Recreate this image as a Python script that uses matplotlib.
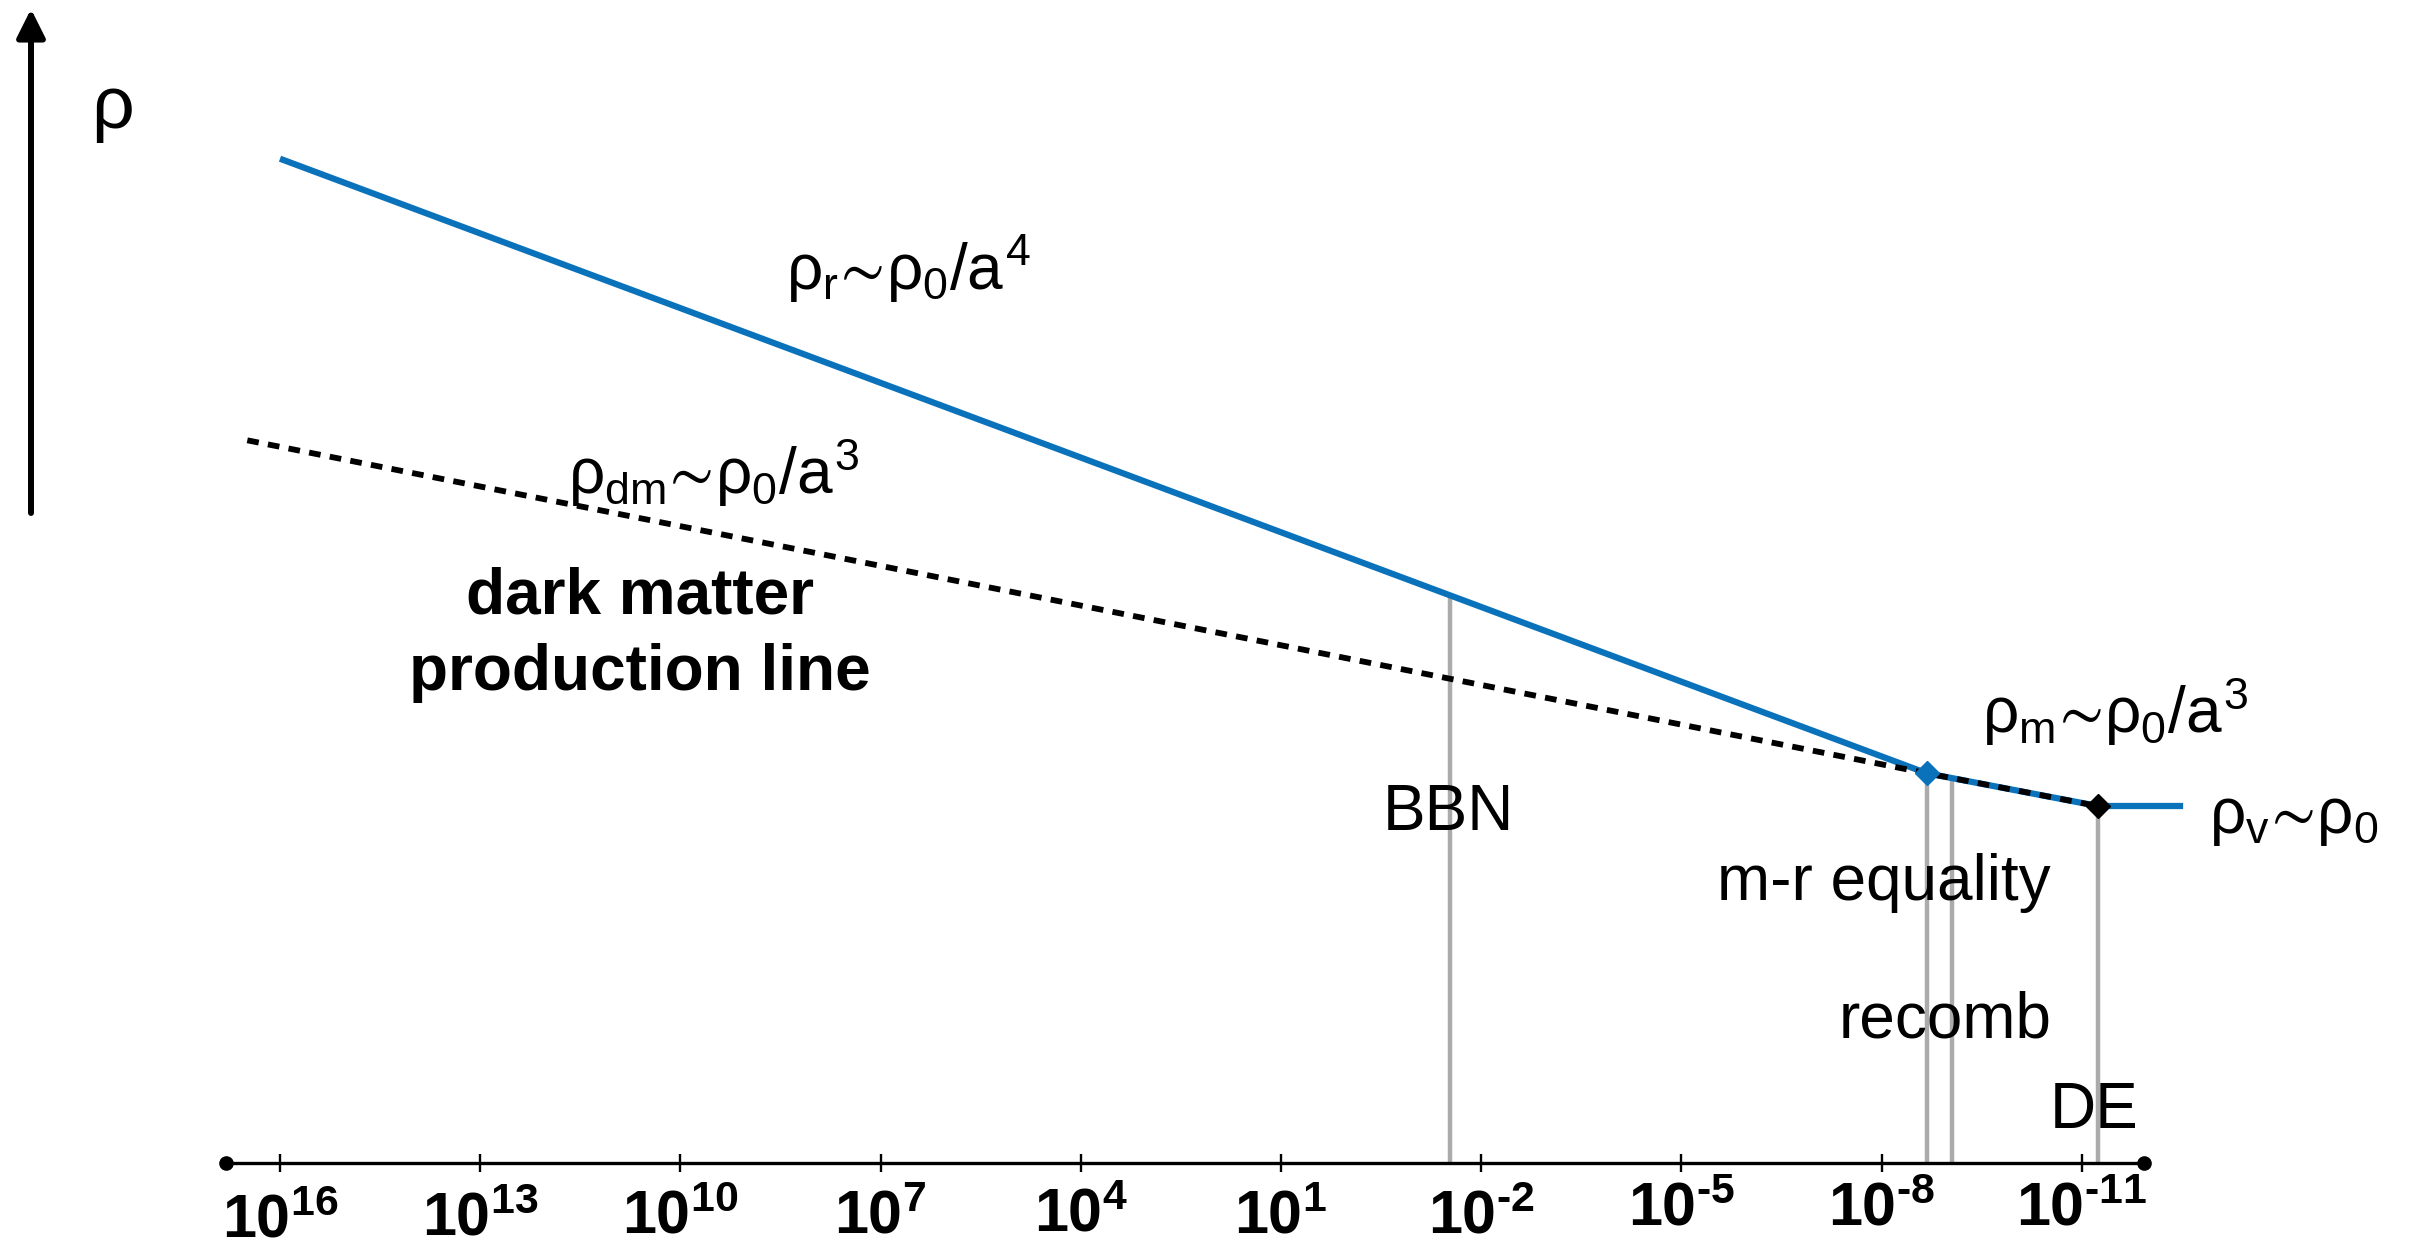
import matplotlib
matplotlib.use("Agg")
import matplotlib.pyplot as plt
from matplotlib import font_manager
import numpy as np

# ---------------------------------------------------------------------------
# Data (horizontal axis: decade exponent, decreasing to the right;
#       vertical axis: log of energy density, arbitrary units)
# ---------------------------------------------------------------------------
tick_exponents = [16, 13, 10, 7, 4, 1, -2, -5, -8, -11]
tick_labels = ["16", "13", "10", "7", "4", "1", "-2", "-5", "-8", "-11"]

# radiation era, rho_r ~ rho_0 / a^4
rad_x = [16.0, -8.68]
rad_y = [15.05, 5.84]

# matter: dark matter production line continuing into the matter era
mat_x = [16.49, -8.68, -11.24]
mat_y = [10.83, 5.84, 5.35]

# vacuum energy, rho_v ~ rho_0
vac_x = [-11.24, -12.52]
vac_y = [5.35, 5.35]

# epochs marked with vertical lines
event_names = ["BBN", "m-r equality", "recomb", "DE"]
event_x = [-1.53, -8.68, -9.06, -11.24]

# horizontal extent of the axis line
axis_span = [16.81, -11.93]

# ---------------------------------------------------------------------------
# Fonts
# ---------------------------------------------------------------------------
def have_font(name):
    try:
        font_manager.findfont(font_manager.FontProperties(family=name),
                              fallback_to_default=False)
        return True
    except Exception:
        return False

narrow = "Liberation Sans Narrow" if have_font("Liberation Sans Narrow") else "Liberation Sans"

plt.rcParams["font.family"] = ["Liberation Sans", "DejaVu Sans"]
plt.rcParams["mathtext.fontset"] = "custom"
plt.rcParams["mathtext.rm"] = "Liberation Sans"
plt.rcParams["mathtext.it"] = "Liberation Sans"
plt.rcParams["mathtext.bf"] = narrow + ":bold"
plt.rcParams["mathtext.fallback"] = "stixsans"

BLUE = "#0a72ba"
GREY = "#ababab"
FS = 46

# ---------------------------------------------------------------------------
# Figure: one axes over the whole canvas, one decade = 66.73 px on both axes
# ---------------------------------------------------------------------------
W, H = 2422, 1247
fig = plt.figure(figsize=(W / 100, H / 100), dpi=100)
ax = fig.add_axes([0, 0, 1, 1])
px = 66.73
ax.set_xlim(16 + 280 / px, 16 - (W - 280) / px)
ax.set_ylim(-(H - 1163) / px, 1163 / px)
for s in ("top", "right", "left"):
    ax.spines[s].set_visible(False)
ax.patch.set_visible(False)

# x axis: spine at y = 0 with end dots
sp = ax.spines["bottom"]
sp.set_position(("data", 0))
sp.set_bounds(min(axis_span), max(axis_span))
sp.set_linewidth(2.4)
ax.set_xticks(tick_exponents)
ax.set_xticklabels([])
ax.tick_params(axis="x", direction="inout", length=12.5, width=1.7, color="black")
ax.set_yticks([])
ax.plot(axis_span, [0, 0], "o", color="black", ms=9.5, clip_on=False, zorder=5)

# tick labels, hand-set baselines (px from top of canvas)
label_baseline_px = [1238, 1236, 1233, 1233, 1232, 1233, 1233, 1225, 1225, 1226]
for e, lab, b in zip(tick_exponents, tick_labels, label_baseline_px):
    ax.text(e, (1163 - b) / px, r"$\mathbf{10^{%s}}$" % lab.replace("-", "\u2010"),
            ha="center", va="baseline", fontsize=44, color="black")

# vertical rho arrow
ax.annotate("", xy=(16 + (280 - 31) / px, (1163 - 9) / px),
            xytext=(16 + (280 - 31) / px, (1163 - 513) / px),
            arrowprops=dict(arrowstyle="-|>", lw=4.3, color="black",
                            mutation_scale=43, shrinkA=0, shrinkB=0),
            annotation_clip=False)
ax.text(16 + (280 - 112) / px, (1163 - 128) / px, "ρ", fontsize=54,
        ha="center", va="baseline")

# dominant-component path: radiation -> matter -> vacuum
dom_x = rad_x + mat_x[2:] + vac_x[1:]
dom_y = rad_y + mat_y[2:] + vac_y[1:]

# epoch lines, from the density curve down to the axis
order = np.argsort(dom_x)
for name, ex in zip(event_names, event_x):
    top = np.interp(ex, np.array(dom_x)[order], np.array(dom_y)[order])
    ax.plot([ex, ex], [top, 0], color=GREY, lw=3.2, zorder=1, solid_capstyle="butt")

ax.plot(dom_x, dom_y, color=BLUE, lw=4.5, zorder=2, solid_capstyle="butt",
        clip_on=False)
ax.plot(mat_x, mat_y, color="black", lw=4.2, ls=(0, (2.0, 1.6)), zorder=3,
        dash_capstyle="butt")

# equality points
ax.plot([rad_x[1]], [rad_y[1]], "D", color=BLUE, ms=12, zorder=4)
ax.plot([mat_x[2]], [mat_y[2]], "D", color="black", ms=12, zorder=4)

# labels
def T(xpx, ypx, s, **kw):
    kw.setdefault("fontsize", FS)
    ax.text(16 - (xpx - 280) / px, (1163 - ypx) / px, s, **kw)

T(786, 290, r"$\rho_{r}\!\sim\!\rho_{0}/a^{4}$", ha="left", va="baseline")
T(568, 494, r"$\rho_{dm}\!\sim\!\rho_{0}/a^{3}$", ha="left", va="baseline")
T(640, 613, "dark matter", ha="center", va="baseline", fontweight="bold")
T(640, 690, "production line", ha="center", va="baseline", fontweight="bold")
T(1448, 830, "BBN", ha="center", va="baseline")
T(1884, 900, "m-r equality", ha="center", va="baseline")
T(1945, 1038, "recomb", ha="center", va="baseline")
T(2094, 1128, "DE", ha="center", va="baseline")
T(1982, 733, r"$\rho_{m}\!\sim\!\rho_{0}/a^{3}$", ha="left", va="baseline")
T(2209, 833, r"$\rho_{v}\!\sim\!\rho_{0}$", ha="left", va="baseline")

fig.savefig("out.png", dpi=100)
